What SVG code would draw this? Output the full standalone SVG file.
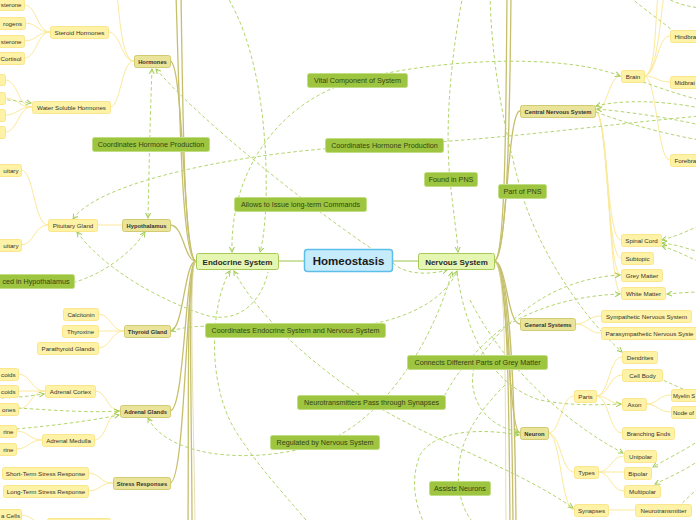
<svg xmlns="http://www.w3.org/2000/svg" width="696" height="520" viewBox="0 0 696 520">
<defs>
<marker id="ar" viewBox="0 0 6 6" refX="5" refY="3" markerWidth="6" markerHeight="6" markerUnits="userSpaceOnUse" orient="auto-start-reverse"><path d="M0,0.5 L5,3 L0,5.5" fill="none" stroke="#a3cc55" stroke-width="1"/></marker>
<style>
.trunk{fill:none;stroke:#c6bf6c;stroke-width:1.3}
.trunk2{fill:none;stroke:#ddd8a0;stroke-width:0.8}
.br{fill:none;stroke:#fbe99a;stroke-width:1}
.l1c{fill:none;stroke:#9fc54a;stroke-width:1}
.rel{fill:none;stroke:#b3d56e;stroke-width:1;stroke-dasharray:3.5,2.5}
.ma{marker-end:url(#ar)}
.ms{marker-start:url(#ar)}
.root rect{fill:#c6ebfb;stroke:#5cbfe9;stroke-width:1.5}
.root text{font:bold 11.5px "Liberation Sans",Arial,sans-serif;fill:#1a1a1a;text-anchor:middle}
.l1 rect{fill:#e4f6b2;stroke:#a6ca55;stroke-width:1}
.l1 text{font:bold 8px "Liberation Sans",Arial,sans-serif;fill:#2b2b2b;text-anchor:middle}
.l2 rect{fill:#e9e49a;stroke:#d3cb72;stroke-width:1}
.l2 text{font:bold 5.8px "Liberation Sans",Arial,sans-serif;fill:#333;text-anchor:middle}
.l3 rect{fill:#fdf2a6;stroke:#fbe68c;stroke-width:1}
.l3 text{font:6.2px "Liberation Sans",Arial,sans-serif;fill:#333;text-anchor:middle}
.lab rect{fill:#9dc53f;stroke:#c2de84;stroke-width:1}
.lab text{font:7.2px "Liberation Sans",Arial,sans-serif;fill:#354417;text-anchor:middle}
.e{text-anchor:end !important}
.s{text-anchor:start !important}
</style>
</defs>

<g id="connectors">
<path class="l1c" d="M304,261 H278"/>
<path class="l1c" d="M393,261 H418"/>
<g>
<path class="trunk" d="M196,261 C182,261 180,120 176,-5"/>
<path class="trunk" d="M196,261 C184,261 183,120 181,-5"/>
<path class="trunk" d="M196,261 C183,261 184,61 170,61"/>
<path class="trunk" d="M196,261 C184,261 184,225 170,225"/>
<path class="trunk" d="M196,261 C184,261 184,331 170,331"/>
<path class="trunk" d="M196,261 C185,261 185,411 170,411"/>
<path class="trunk" d="M196,261 C186,261 186,483 170,483"/>
<path class="trunk" d="M196,261 C186,261 189,400 188,525"/>
<path class="trunk" d="M196,261 C187,261 192,420 192,525"/>
<path class="trunk2" d="M196,261 C188,261 194,420 195,525"/>
</g>
<g>
<path class="trunk" d="M494,261 C506,261 506,100 507,-5"/>
<path class="trunk" d="M494,261 C508,261 510,100 511,-5"/>
<path class="trunk" d="M494,261 C507,261 507,111 520,111"/>
<path class="trunk" d="M494,261 C507,261 507,324 520,324"/>
<path class="trunk" d="M494,261 C508,261 508,433 520,433"/>
<path class="trunk" d="M494,261 C508,261 509,400 510,525"/>
<path class="trunk" d="M494,261 C509,261 512,400 513,525"/>
<path class="trunk" d="M494,261 C510,261 515,400 516,525"/>
<path class="trunk2" d="M494,261 C507,261 505,400 506,525"/>
</g>
<path class="br" d="M134,61 C121,61 121,32 108,32"/>
<path class="br" d="M134,61 C121,61 121,107 110,107"/>
<path class="br" d="M134,61 C122,61 120,20 117,-5"/>
<path class="br" d="M50,32 C37,32 37,5 24,5"/>
<path class="br" d="M50,32 C37,32 37,23 25,23"/>
<path class="br" d="M50,32 C37,32 37,41 24,41"/>
<path class="br" d="M50,32 C37,32 37,58 24,58"/>
<path class="br" d="M32,107 C18,107 18,80 5,80"/>
<path class="br" d="M32,107 C18,107 18,98 5,98"/>
<path class="br" d="M32,107 C18,107 18,115 5,115"/>
<path class="br" d="M32,107 C18,107 18,132 5,132"/>
<path class="br" d="M122,225 H97"/>
<path class="br" d="M48,225 C34,225 34,170 21,170"/>
<path class="br" d="M48,225 C34,225 34,245 21,245"/>
<path class="br" d="M124,331 C111,331 111,314 98,314"/>
<path class="br" d="M124,331 H98"/>
<path class="br" d="M124,331 C111,331 111,348 98,348"/>
<path class="br" d="M120,411 C107,411 107,391 95,391"/>
<path class="br" d="M120,411 C107,411 107,440 94,440"/>
<path class="br" d="M45,391 C31,391 31,374 18,374"/>
<path class="br" d="M45,391 H18"/>
<path class="br" d="M45,391 C31,391 31,409 18,409"/>
<path class="br" d="M42,440 C29,440 29,431 16,431"/>
<path class="br" d="M42,440 C29,440 29,449 16,449"/>
<path class="br" d="M113,483 C100,483 100,473 88,473"/>
<path class="br" d="M113,483 C100,483 100,491 88,491"/>
<path class="br" d="M47,524 C33,524 33,515 20,515"/>
<path class="br" d="M595,111 C608,111 608,76 621,76"/>
<path class="br" d="M595,111 C608,111 606,240 621,240"/>
<path class="br" d="M595,111 C608,111 606,258 621,258"/>
<path class="br" d="M595,111 C609,111 607,275 621,275"/>
<path class="br" d="M595,111 C610,111 608,293 621,293"/>
<path class="br" d="M644,76 C657,76 657,36 670,36"/>
<path class="br" d="M644,76 C657,76 657,82 670,82"/>
<path class="br" d="M644,76 C657,76 657,160 670,160"/>
<path class="br" d="M644,76 C656,76 655,20 658,-5"/>
<path class="br" d="M644,76 C657,76 660,20 664,-5"/>
<path class="br" d="M575,324 C588,324 588,316 601,316"/>
<path class="br" d="M575,324 C588,324 588,333 601,333"/>
<path class="br" d="M548,433 C561,433 561,396 574,396"/>
<path class="br" d="M548,433 C561,433 561,472 574,472"/>
<path class="br" d="M548,433 C561,433 561,510 574,510"/>
<path class="br" d="M596,396 C609,396 609,357 622,357"/>
<path class="br" d="M596,396 C609,396 609,375 622,375"/>
<path class="br" d="M596,396 C609,396 609,404 622,404"/>
<path class="br" d="M596,396 C609,396 609,433 622,433"/>
<path class="br" d="M646,404 C658,404 658,395 671,395"/>
<path class="br" d="M646,404 C658,404 658,412 671,412"/>
<path class="br" d="M598,472 C611,472 611,456 624,456"/>
<path class="br" d="M598,472 H624"/>
<path class="br" d="M598,472 C611,472 611,491 624,491"/>
<path class="br" d="M608,510 H635"/>

<path class="rel ms ma" d="M152,69 C150,120 149,170 148,218"/>
<path class="rel ms" d="M156,69 C200,120 300,200 372,249"/>
<path class="rel ma" d="M226,-5 C255,40 268,120 266,200 C265,230 262,245 260,252"/>
<path class="rel ms ma" d="M232,252 C230,170 280,100 357,80 C430,60 560,52 620,76"/>
<path class="rel ms" d="M73,219 C100,180 250,150 384,145 C500,140 600,125 700,116"/>
<path class="rel ma" d="M463,-5 C450,60 445,130 450,180 C453,210 457,235 458,252"/>
<path class="rel ma" d="M490,-5 C492,80 510,150 521,191 C535,240 575,310 622,352"/>
<path class="rel ma" d="M393,263 C405,275 430,275 447,270"/>
<path class="rel ms ma" d="M171,331 C200,322 230,328 295,330 C380,332 440,310 457,271"/>
<path class="rel ms ma" d="M234,271 C260,320 320,370 370,402 C430,440 520,470 573,508"/>
<path class="rel ms" d="M230,271 C212,300 205,380 235,430 C260,470 290,500 310,525"/>
<path class="rel ms ma" d="M148,418 C170,460 260,465 325,442 C380,420 430,350 452,272"/>
<path class="rel ms" d="M77,232 C105,270 160,300 205,315 C240,325 262,300 268,272"/>
<path class="rel ma" d="M-5,283 C30,283 60,284 75,282 C100,275 130,255 145,232"/>
<path class="rel ma" d="M-5,99 C10,100 20,101 31,103"/>
<path class="rel ma" d="M-5,398 C15,398 30,396 44,394"/>
<path class="rel ma" d="M18,408 C50,410 90,413 119,411"/>
<path class="rel ma" d="M16,429 C60,425 95,420 119,415"/>
<path class="rel ms ma" d="M620,275 C570,278 520,300 476,362 C465,390 480,425 519,432"/>
<path class="rel ms" d="M620,294 C570,296 530,310 500,330 C475,350 455,375 445,395"/>
<path class="rel ma" d="M425,525 C415,505 410,480 420,455 C435,430 480,428 519,435"/>
<path class="rel" d="M505,385 C470,420 455,450 459,488 C462,510 470,520 480,530"/>
<path class="rel ma" d="M470,300 C500,360 560,420 623,453"/>
<path class="rel ma" d="M457,272 C465,330 490,385 540,400 C570,406 600,405 621,404"/>
<path class="rel ma" d="M700,440 C685,450 665,460 653,467"/>
<path class="rel ma" d="M700,460 C685,470 668,478 655,484"/>
<path class="rel" d="M658,378 C670,383 680,388 690,392"/>
<path class="rel" d="M670,516 C680,505 690,495 700,487"/>
<path class="rel ms" d="M662,240 C680,235 690,230 700,225"/>
<path class="rel ms" d="M662,243 C680,245 690,250 700,252"/>
<path class="rel ms" d="M662,246 C680,252 690,258 700,262"/>
<path class="rel ms" d="M667,294 C680,293 690,292 700,292"/>
<path class="rel ms" d="M596,106 C620,100 660,100 700,108"/>
<path class="rel ms" d="M597,109 C630,112 670,118 700,125"/>
<path class="rel" d="M643,82 C660,88 680,95 700,100"/>
<path class="rel" d="M630,-3 C645,10 660,20 672,30"/>
<path class="rel" d="M665,-3 C675,3 685,6 700,8"/>
<path class="rel" d="M596,112 C630,125 670,135 700,140"/>
</g>

<g id="homeostasis" class="root"><rect x="304.5" y="249.5" width="88" height="22" rx="3"/><text x="348.5" y="265">Homeostasis</text></g>
<g id="endocrine-system" class="l1"><rect x="196.5" y="253.5" width="82" height="16" rx="2"/><text x="237.5" y="264.5">Endocrine System</text></g>
<g id="nervous-system" class="l1"><rect x="418.5" y="253.5" width="76" height="16" rx="2"/><text x="456.5" y="264.5">Nervous System</text></g>

<g id="hormones" class="l2"><rect x="134.5" y="55.5" width="36" height="12" rx="2"/><text x="152.5" y="63.5">Hormones</text></g>
<g id="hypothalamus" class="l2"><rect x="122.5" y="219.5" width="48" height="12" rx="2"/><text x="146.5" y="227.5">Hypothalamus</text></g>
<g id="thyroid-gland" class="l2"><rect x="124.5" y="325.5" width="46" height="12" rx="2"/><text x="147.5" y="333.5">Thyroid Gland</text></g>
<g id="adrenal-glands" class="l2"><rect x="120.5" y="405.5" width="50" height="12" rx="2"/><text x="145.5" y="413.5">Adrenal Glands</text></g>
<g id="stress-responses" class="l2"><rect x="113.5" y="477.5" width="57" height="12" rx="2"/><text x="142" y="485.5">Stress Responses</text></g>
<g id="cns" class="l2"><rect x="520.5" y="105.5" width="75" height="12" rx="2"/><text x="558" y="113.5">Central Nervous System</text></g>
<g id="general-systems" class="l2"><rect x="520.5" y="318.5" width="55" height="12" rx="2"/><text x="548" y="326.5">General Systems</text></g>
<g id="neuron" class="l2"><rect x="520.5" y="427.5" width="28" height="12" rx="2"/><text x="534.5" y="435.5">Neuron</text></g>

<g id="steroid-hormones" class="l3"><rect x="50.5" y="26.5" width="58" height="12" rx="2"/><text x="79.5" y="34.7">Steroid Hormones</text></g>
<g id="water-soluble-hormones" class="l3"><rect x="32.5" y="101.5" width="78" height="12" rx="2"/><text x="71.5" y="109.7">Water Soluble Hormones</text></g>
<g id="pituitary-gland" class="l3"><rect x="48.5" y="219.5" width="49" height="12" rx="2"/><text x="73" y="227.7">Pituitary Gland</text></g>
<g id="calcitonin" class="l3"><rect x="63.5" y="308.5" width="35" height="12" rx="2"/><text x="81" y="316.7">Calcitonin</text></g>
<g id="thyroxine" class="l3"><rect x="62.5" y="325.5" width="36" height="12" rx="2"/><text x="80.5" y="333.7">Thyroxine</text></g>
<g id="parathyroid-glands" class="l3"><rect x="37.5" y="342.5" width="61" height="12" rx="2"/><text x="68" y="350.7">Parathyroid Glands</text></g>
<g id="adrenal-cortex" class="l3"><rect x="45.5" y="385.5" width="50" height="12" rx="2"/><text x="70.5" y="393.7">Adrenal Cortex</text></g>
<g id="adrenal-medulla" class="l3"><rect x="42.5" y="434.5" width="52" height="12" rx="2"/><text x="68.5" y="442.7">Adrenal Medulla</text></g>
<g id="short-term" class="l3"><rect x="2.5" y="467.5" width="86" height="12" rx="2"/><text x="45.5" y="475.7">Short-Term Stress Response</text></g>
<g id="long-term" class="l3"><rect x="3.5" y="485.5" width="85" height="12" rx="2"/><text x="46" y="493.7">Long-Term Stress Response</text></g>
<g id="bottom-left" class="l3"><rect x="47.5" y="518.5" width="63" height="12" rx="2"/></g>

<g id="l4-a" class="l3"><rect x="-20" y="-0.5" width="44.5" height="11" rx="2"/><text class="e" x="21.5" y="7.2">sterone</text></g>
<g id="l4-b" class="l3"><rect x="-20" y="17.5" width="45.5" height="12" rx="2"/><text class="e" x="22" y="25.7">rogens</text></g>
<g id="l4-c" class="l3"><rect x="-20" y="35.5" width="44.5" height="12" rx="2"/><text class="e" x="21.5" y="43.7">sterone</text></g>
<g id="l4-d" class="l3"><rect x="-20" y="52.5" width="44.5" height="12" rx="2"/><text class="e" x="21.5" y="60.7">Cortisol</text></g>
<g id="l4-e" class="l3"><rect x="-20" y="74.5" width="25.5" height="11" rx="2"/></g>
<g id="l4-f" class="l3"><rect x="-20" y="92.5" width="25.5" height="12" rx="2"/></g>
<g id="l4-g" class="l3"><rect x="-20" y="109.5" width="25.5" height="12" rx="2"/></g>
<g id="l4-h" class="l3"><rect x="-20" y="126.5" width="25.5" height="12" rx="2"/></g>
<g id="l4-i" class="l3"><rect x="-20" y="164.5" width="41.5" height="12" rx="2"/><text class="e" x="18.5" y="172.7">uitary</text></g>
<g id="l4-j" class="l3"><rect x="-20" y="239.5" width="41.5" height="12" rx="2"/><text class="e" x="18.5" y="247.7">uitary</text></g>
<g id="l4-k" class="l3"><rect x="-20" y="368.5" width="38.5" height="12" rx="2"/><text class="e" x="15.5" y="376.7">coids</text></g>
<g id="l4-l" class="l3"><rect x="-20" y="385.5" width="38.5" height="12" rx="2"/><text class="e" x="15.5" y="393.7">coids</text></g>
<g id="l4-m" class="l3"><rect x="-20" y="403.5" width="38.5" height="12" rx="2"/><text class="e" x="15.5" y="411.7">ones</text></g>
<g id="l4-n" class="l3"><rect x="-20" y="425.5" width="36.5" height="12" rx="2"/><text class="e" x="13.5" y="433.7">rine</text></g>
<g id="l4-o" class="l3"><rect x="-20" y="443.5" width="36.5" height="12" rx="2"/><text class="e" x="13.5" y="451.7">rine</text></g>
<g id="l4-p" class="l3"><rect x="-20" y="509.5" width="41.5" height="12" rx="2"/><text class="e" x="20" y="517.7">a Cells</text></g>

<g id="brain" class="l3"><rect x="621.5" y="70.5" width="23" height="12" rx="2"/><text x="633" y="78.7">Brain</text></g>
<g id="hindbrain" class="l3"><rect x="670.5" y="30.5" width="40" height="12" rx="2"/><text class="s" x="674.5" y="38.7">Hindbra</text></g>
<g id="midbrain" class="l3"><rect x="670.5" y="76.5" width="40" height="12" rx="2"/><text class="s" x="674.5" y="84.7">Midbrai</text></g>
<g id="forebrain" class="l3"><rect x="670.5" y="154.5" width="40" height="12" rx="2"/><text class="s" x="674.5" y="162.7">Forebra</text></g>
<g id="spinal-cord" class="l3"><rect x="621.5" y="234.5" width="40" height="12" rx="2"/><text x="641.5" y="242.7">Spinal Cord</text></g>
<g id="subtopic" class="l3"><rect x="621.5" y="252.5" width="32" height="12" rx="2"/><text x="637.5" y="260.7">Subtopic</text></g>
<g id="grey-matter" class="l3"><rect x="621.5" y="269.5" width="41" height="12" rx="2"/><text x="642" y="277.7">Grey Matter</text></g>
<g id="white-matter" class="l3"><rect x="621.5" y="287.5" width="44" height="12" rx="2"/><text x="643.5" y="295.7">White Matter</text></g>
<g id="sympathetic" class="l3"><rect x="601.5" y="310.5" width="90" height="12" rx="2"/><text x="646.5" y="318.7">Sympathetic Nervous System</text></g>
<g id="parasympathetic" class="l3"><rect x="601.5" y="327.5" width="100" height="12" rx="2"/><text class="s" x="605.5" y="335.7">Parasympathetic Nervous Syste</text></g>
<g id="parts" class="l3"><rect x="574.5" y="390.5" width="22" height="12" rx="2"/><text x="585.5" y="398.7">Parts</text></g>
<g id="types" class="l3"><rect x="574.5" y="466.5" width="24" height="12" rx="2"/><text x="586.5" y="474.7">Types</text></g>
<g id="synapses" class="l3"><rect x="574.5" y="504.5" width="34" height="12" rx="2"/><text x="591.5" y="512.7">Synapses</text></g>
<g id="dendrites" class="l3"><rect x="622.5" y="351.5" width="35" height="12" rx="2"/><text x="640" y="359.7">Dendrites</text></g>
<g id="cell-body" class="l3"><rect x="622.5" y="369.5" width="40" height="12" rx="2"/><text x="642.5" y="377.7">Cell Body</text></g>
<g id="axon" class="l3"><rect x="622.5" y="398.5" width="24" height="12" rx="2"/><text x="634.5" y="406.7">Axon</text></g>
<g id="branching-ends" class="l3"><rect x="622.5" y="427.5" width="52" height="12" rx="2"/><text x="648.5" y="435.7">Branching Ends</text></g>
<g id="myelin" class="l3"><rect x="671.5" y="389.5" width="40" height="12" rx="2"/><text class="s" x="673" y="397.7" style="font-size:5.8px">Myelin S</text></g>
<g id="node-of" class="l3"><rect x="671.5" y="406.5" width="40" height="12" rx="2"/><text class="s" x="673" y="414.7" style="font-size:6px">Node of</text></g>
<g id="unipolar" class="l3"><rect x="624.5" y="450.5" width="32" height="12" rx="2"/><text x="640.5" y="458.7">Unipolar</text></g>
<g id="bipolar" class="l3"><rect x="624.5" y="467.5" width="27" height="12" rx="2"/><text x="638" y="475.7">Bipolar</text></g>
<g id="multipolar" class="l3"><rect x="624.5" y="485.5" width="36" height="12" rx="2"/><text x="642.5" y="493.7">Multipolar</text></g>
<g id="neurotransmitter" class="l3"><rect x="635.5" y="504.5" width="56" height="12" rx="2"/><text x="663.5" y="512.7">Neurotransmitter</text></g>

<g id="lab-vital" class="lab"><rect x="307.5" y="73.5" width="100" height="14" rx="2"/><text x="357.5" y="83.2">Vital Component of System</text></g>
<g id="lab-chp-left" class="lab"><rect x="92.5" y="137.5" width="117" height="14" rx="2"/><text x="151" y="147.2">Coordinates Hormone Production</text></g>
<g id="lab-chp-right" class="lab"><rect x="325.5" y="138.5" width="118" height="14" rx="2"/><text x="384.5" y="148.2">Coordinates Hormone Production</text></g>
<g id="lab-found-pns" class="lab"><rect x="424.5" y="172.5" width="53" height="14" rx="2"/><text x="451" y="182.2">Found in PNS</text></g>
<g id="lab-part-pns" class="lab"><rect x="498.5" y="184.5" width="48" height="14" rx="2"/><text x="522.5" y="194.2">Part of PNS</text></g>
<g id="lab-allows" class="lab"><rect x="234.5" y="197.5" width="132" height="14" rx="2"/><text x="300.5" y="207.2">Allows to Issue long-term Commands</text></g>
<g id="lab-produced" class="lab"><rect x="-40" y="274.5" width="114.5" height="14" rx="2"/><text class="e" x="69.5" y="284.2">ced in Hypothalamus</text></g>
<g id="lab-coord-en" class="lab"><rect x="205.5" y="323.5" width="180" height="14" rx="2"/><text x="295.5" y="333.2">Coordinates Endocrine System and Nervous System</text></g>
<g id="lab-connects" class="lab"><rect x="407.5" y="355.5" width="140" height="14" rx="2"/><text x="477.5" y="365.2">Connects Different Parts of Grey Matter</text></g>
<g id="lab-neurotrans" class="lab"><rect x="297.5" y="395.5" width="148" height="14" rx="2"/><text x="371.5" y="405.2">Neurotransmitters Pass through Synapses</text></g>
<g id="lab-regulated" class="lab"><rect x="270.5" y="435.5" width="109" height="14" rx="2"/><text x="325" y="445.2">Regulated by Nervous System</text></g>
<g id="lab-assists" class="lab"><rect x="429.5" y="481.5" width="61" height="14" rx="2"/><text x="460" y="491.2">Assists Neurons</text></g>
</svg>
